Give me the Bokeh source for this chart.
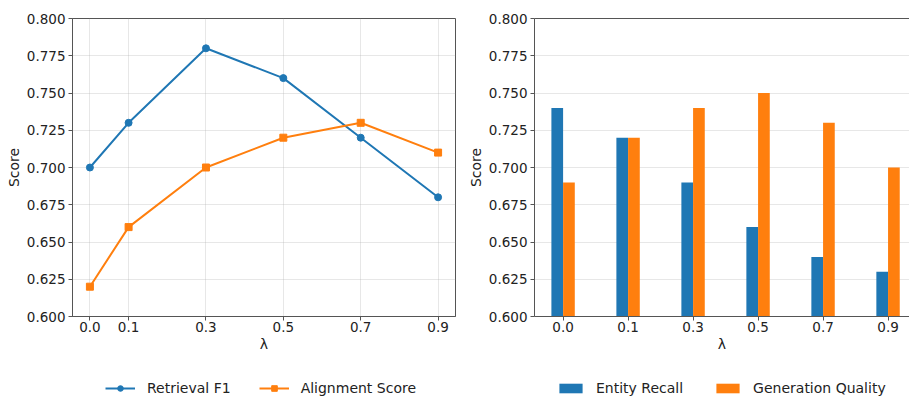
from bokeh.plotting import figure
from bokeh.models import (FixedTicker, PrintfTickFormatter, Legend, LegendItem,
                          LinearAxis, Range1d)
from bokeh.layouts import row, column
from bokeh.embed import file_html
from bokeh.resources import INLINE

# ---- data ----
lambdas = [0.0, 0.1, 0.3, 0.5, 0.7, 0.9]
lambda_labels = ["0.0", "0.1", "0.3", "0.5", "0.7", "0.9"]
retrieval_f1 = [0.70, 0.73, 0.78, 0.76, 0.72, 0.68]
alignment_score = [0.62, 0.66, 0.70, 0.72, 0.73, 0.71]
entity_recall = [0.74, 0.72, 0.69, 0.66, 0.64, 0.63]
generation_quality = [0.69, 0.72, 0.74, 0.75, 0.73, 0.70]
y_ticks = [0.600, 0.625, 0.650, 0.675, 0.700, 0.725, 0.750, 0.775, 0.800]

BLUE = "#1f77b4"
ORANGE = "#ff7f0e"
SPINE = "#555555"
FONT = "DejaVu Sans"
TICK_FS = "13.5px"
LABEL_FS = "14px"
H_TOP = 360
H_LEG = 38


def style_axes(p):
    for ax in p.xaxis + p.yaxis:
        ax.axis_line_color = SPINE
        ax.major_tick_line_color = SPINE
        ax.major_tick_out = 4
        ax.major_tick_in = 0
        ax.minor_tick_line_color = None
        ax.major_label_text_font = FONT
        ax.major_label_text_font_size = TICK_FS
        ax.major_label_text_color = "#222222"
        ax.axis_label_text_font = FONT
        ax.axis_label_text_font_size = LABEL_FS
        ax.axis_label_text_font_style = "normal"
        ax.axis_label_text_color = "#222222"
    p.xaxis.major_label_standoff = 1
    p.xaxis.axis_label_standoff = 1
    p.yaxis.major_label_standoff = 3
    p.yaxis.axis_label_standoff = 2
    p.yaxis.ticker = FixedTicker(ticks=y_ticks)
    p.yaxis.formatter = PrintfTickFormatter(format="%.3f")
    p.xaxis.axis_label = "λ"
    p.yaxis.axis_label = "Score"
    p.ygrid.grid_line_color = "#b0b0b0"
    p.ygrid.grid_line_alpha = 0.3
    p.background_fill_color = "white"
    p.border_fill_color = "white"


# ---- left: line chart ----
p1 = figure(width=462, height=H_TOP,
            x_range=Range1d(-0.045, 0.945), y_range=Range1d(0.6, 0.8),
            output_backend="svg", toolbar_location=None,
            min_border_left=72, min_border_right=7,
            min_border_top=18, min_border_bottom=44)
style_axes(p1)
p1.xaxis.ticker = FixedTicker(ticks=lambdas)
p1.xaxis.major_label_overrides = {v: s for v, s in zip(lambdas, lambda_labels)}
p1.xgrid.grid_line_color = "#b0b0b0"
p1.xgrid.grid_line_alpha = 0.3
p1.outline_line_color = SPINE
p1.outline_line_alpha = 1

p1.line(lambdas, retrieval_f1, line_width=2, color=BLUE)
p1.scatter(lambdas, retrieval_f1, marker="circle", size=7, color=BLUE)
p1.line(lambdas, alignment_score, line_width=2, color=ORANGE)
p1.scatter(lambdas, alignment_score, marker="square", size=7, color=ORANGE)

# ---- right: grouped bars ----
idx = list(range(len(lambdas)))
bar_w = 0.18
p2 = figure(width=447, height=H_TOP,
            x_range=Range1d(-0.44, 5.33), y_range=Range1d(0.6, 0.8),
            output_backend="svg", toolbar_location=None,
            min_border_left=72, min_border_right=0,
            min_border_top=18, min_border_bottom=44)
style_axes(p2)
p2.xaxis.ticker = FixedTicker(ticks=idx)
p2.xaxis.major_label_overrides = {i: s for i, s in zip(idx, lambda_labels)}
p2.xgrid.visible = False
p2.outline_line_color = None
top_ax = LinearAxis(ticker=FixedTicker(ticks=[]), axis_line_color=SPINE,
                    major_tick_line_color=None, major_tick_out=0,
                    minor_tick_line_color=None, minor_tick_out=0)
p2.add_layout(top_ax, "above")

p2.vbar(x=[i - bar_w / 2 for i in idx], top=entity_recall, bottom=0,
        width=bar_w, color=BLUE, line_color=None)
p2.vbar(x=[i + bar_w / 2 for i in idx], top=generation_quality, bottom=0,
        width=bar_w, color=ORANGE, line_color=None)

# ---- legend strip (its glyphs lie outside its visible range) ----
p3 = figure(width=909, height=H_LEG, x_range=Range1d(0, 1), y_range=Range1d(10, 11),
            output_backend="svg", toolbar_location=None,
            x_axis_location=None, y_axis_location=None,
            min_border=0, min_border_left=0, min_border_right=0,
            min_border_top=0, min_border_bottom=0)
p3.grid.visible = False
p3.outline_line_color = None
p3.background_fill_color = "white"
p3.border_fill_color = "white"

ll1 = p3.line(lambdas, retrieval_f1, line_width=2, color=BLUE)
ls1 = p3.scatter(lambdas, retrieval_f1, marker="circle", size=7, color=BLUE)
ll2 = p3.line(lambdas, alignment_score, line_width=2, color=ORANGE)
ls2 = p3.scatter(lambdas, alignment_score, marker="square", size=7, color=ORANGE)
lb1 = p3.vbar(x=lambdas, top=entity_recall, bottom=0, width=0.05,
              color=BLUE, line_color=None)
lb2 = p3.vbar(x=lambdas, top=generation_quality, bottom=0, width=0.05,
              color=ORANGE, line_color=None)


def make_legend(items, loc, spacing, standoff, gw, gh):
    return Legend(items=items, orientation="horizontal", location=loc,
                  border_line_color=None, background_fill_alpha=0,
                  padding=0, margin=0, spacing=spacing, label_standoff=standoff,
                  glyph_width=gw, glyph_height=gh, label_height=14,
                  label_text_font=FONT, label_text_font_size=LABEL_FS,
                  label_text_color="#222222")


leg1 = make_legend([LegendItem(label="Retrieval F1", renderers=[ll1, ls1]),
                    LegendItem(label="Alignment Score", renderers=[ll2, ls2])],
                   (105, 2), 28, 12, 30, 14)
leg2 = make_legend([LegendItem(label="Entity Recall", renderers=[lb1]),
                    LegendItem(label="Generation Quality", renderers=[lb2])],
                   (556, 2), 30, 11, 29, 12)
p3.add_layout(leg1, "center")
p3.add_layout(leg2, "center")

layout = column(row(p1, p2), p3)
open("out.html", "w").write(file_html(layout, INLINE))
